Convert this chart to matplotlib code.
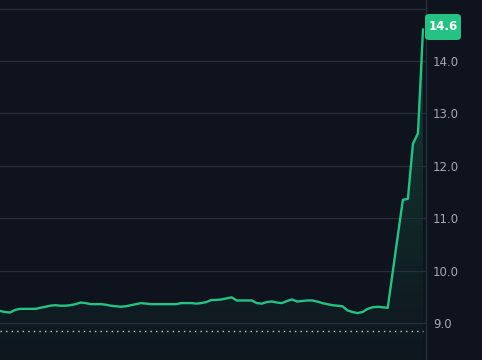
import matplotlib

matplotlib.use("Agg")

import matplotlib.pyplot as plt
import numpy as np
from matplotlib.colors import to_rgb
from matplotlib.patches import FancyBboxPatch

# price readings, one every tick
prices = [
    9.23, 9.21, 9.20, 9.25, 9.27, 9.27, 9.27, 9.27, 9.29, 9.31,
    9.33, 9.34, 9.33, 9.33, 9.34, 9.36, 9.39, 9.38, 9.36, 9.36,
    9.36, 9.35, 9.33, 9.32, 9.31, 9.32, 9.34, 9.36, 9.38, 9.37,
    9.36, 9.36, 9.36, 9.36, 9.36, 9.36, 9.38, 9.38, 9.38, 9.37,
    9.38, 9.40, 9.44, 9.44, 9.45, 9.47, 9.49, 9.43, 9.43, 9.43,
    9.43, 9.38, 9.37, 9.40, 9.41, 9.39, 9.38, 9.42, 9.45, 9.41,
    9.42, 9.43, 9.43, 9.41, 9.38, 9.36, 9.34, 9.33, 9.32, 9.24,
    9.21, 9.19, 9.21, 9.27, 9.30, 9.31, 9.30, 9.29, 9.98, 10.67,
    11.35, 11.37, 12.42, 12.62, 14.60,
]
y_ticks = [9.0, 10.0, 11.0, 12.0, 13.0, 14.0, 15.0]
y_tick_labels = ["9.0", "10.0", "11.0", "12.0", "13.0", "14.0", ""]
ref_level = 8.85
last_label = "14.6"

BG = "#0e131d"
GREEN = "#25c283"
GRID = "#272e3b"
TEXT = "#a3a9b4"

W, H = 482, 360
fig = plt.figure(figsize=(W / 100, H / 100), dpi=100, facecolor=BG)
ax = fig.add_axes([0, 0, 426 / W, 1])
ax.set_facecolor(BG)

x = np.arange(len(prices))
y = np.array(prices)
x_max = (len(prices) - 1) * 426 / 423
y_lo, y_hi = 8.294, 15.164

# gradient fill under the line
fill = ax.fill_between(x, y, y_lo, color="none", lw=0)
rgb = to_rgb(GREEN)
grad = np.zeros((256, 2, 4))
grad[..., :3] = rgb
grad[..., 3] = np.linspace(0.02, 0.26, 256)[:, None]
img = ax.imshow(grad, extent=[0, x_max, y_lo, y_hi], origin="lower",
                aspect="auto", zorder=1)
img.set_clip_path(fill.get_paths()[0], transform=ax.transData)

ax.plot(x, y, color=GREEN, lw=1.7, zorder=3, solid_joinstyle="round")
ax.hlines(ref_level, 0, len(prices) - 1, colors="#c5cad3",
          linestyles=(0, (1, 3)), lw=1, zorder=2)

ax.set_xlim(0, x_max)
ax.set_ylim(y_lo, y_hi)
ax.set_yticks(y_ticks)
ax.set_yticklabels(y_tick_labels)
ax.yaxis.tick_right()
ax.tick_params(axis="y", length=0, pad=5, colors=TEXT, labelsize=8.5)
for lab in ax.get_yticklabels():
    lab.set_fontweight("medium")
ax.set_xticks([])
ax.grid(axis="y", color=GRID, lw=0.9)
for side in ["top", "left", "bottom"]:
    ax.spines[side].set_visible(False)
ax.spines["right"].set_color(GRID)
ax.spines["right"].set_linewidth(1)

# last value badge
bx0, bx1 = 425 / W, 461 / W
by_c = 1 - 27 / H
bh = 26 / H
badge = FancyBboxPatch((bx0, by_c - bh / 2), bx1 - bx0, bh,
                       boxstyle="round,pad=0,rounding_size=0.009",
                       transform=fig.transFigure, facecolor=GREEN,
                       edgecolor="none", zorder=5)
fig.patches.append(badge)
fig.text((bx0 + bx1) / 2, by_c, last_label, color="white", fontsize=8.5,
         fontweight="bold", ha="center", va="center", zorder=6)

fig.savefig("out.png", dpi=100, facecolor=BG)
